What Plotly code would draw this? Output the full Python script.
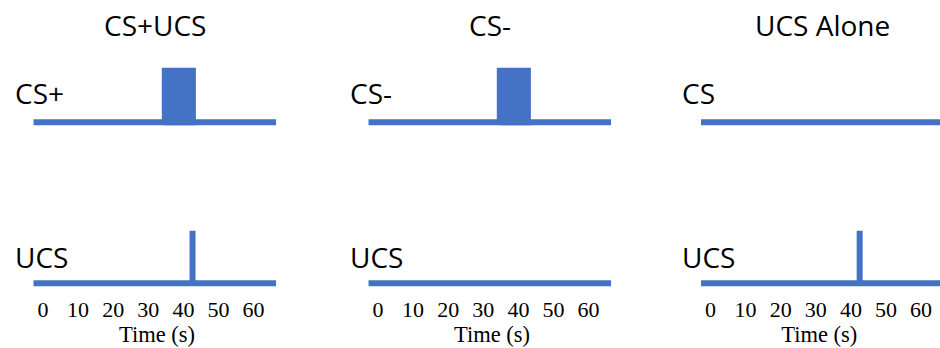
import plotly.graph_objects as go

# ---- data ----
panel_titles = ["CS+UCS", "CS-", "UCS Alone"]
cs_labels = ["CS+", "CS-", "CS"]
ucs_labels = ["UCS", "UCS", "UCS"]
time_ticks = [0, 10, 20, 30, 40, 50, 60]
tick_text = ["0", "10", "20", "30", "40", "50", "60"]
cs_onset = [34.7, 34.7, None]
cs_offset = [42.7, 42.7, None]
ucs_time = [42.6, None, 42.5]
trace_start = -2.7
trace_end = 66.4

# ---- layout geometry (pixels) ----
W, H = 940, 348
BLUE = "#4472C4"
zero_px = [43, 378, 710.5]
px_per_s = 3.51
cs_base_px, cs_top_px = 122.3, 70.7
ucs_base_px, ucs_top_px = 283.3, 230.7
cs_dom_px = (50, 140)
ucs_dom_px = (212, 293.5)


def xdom(i):
    left = zero_px[i] - 12
    right = min(zero_px[i] + 240, W)
    rng = [(left - zero_px[i]) / px_per_s, (right - zero_px[i]) / px_per_s]
    return [left / W, right / W], rng


def ydom(dom_px, base_px, top_px):
    scale = base_px - top_px
    top, bot = dom_px
    rng = [(base_px - bot) / scale, (base_px - top) / scale]
    return [1 - bot / H, 1 - top / H], rng


fig = go.Figure()
layout = {}
annotations = []
line = dict(color=BLUE, width=6)

for i in range(3):
    xd, xr = xdom(i)
    n_cs = 2 * i + 1
    n_ucs = 2 * i + 2
    xa_cs = "x" if n_cs == 1 else f"x{n_cs}"
    ya_cs = "y" if n_cs == 1 else f"y{n_cs}"
    xa_u, ya_u = f"x{n_ucs}", f"y{n_ucs}"

    # CS baseline
    fig.add_trace(go.Scatter(x=[trace_start, trace_end], y=[0, 0], mode="lines", line=line,
                             xaxis=xa_cs, yaxis=ya_cs, showlegend=False, hoverinfo="skip"))
    # CS pulse block
    if cs_onset[i] is not None:
        xs = [cs_onset[i], cs_onset[i], cs_offset[i], cs_offset[i], cs_onset[i]]
        ys = [0, 1, 1, 0, 0]
        fig.add_trace(go.Scatter(x=xs, y=ys, mode="lines", line=line, fill="toself",
                                 fillcolor=BLUE, xaxis=xa_cs, yaxis=ya_cs, showlegend=False))
    # UCS baseline + spike
    xs = [trace_start, trace_end]
    ys = [0, 0]
    if ucs_time[i] is not None:
        xs += [None, ucs_time[i], ucs_time[i]]
        ys += [None, 0, 1]
    fig.add_trace(go.Scatter(x=xs, y=ys, mode="lines", line=line, connectgaps=False,
                             xaxis=xa_u, yaxis=ya_u, showlegend=False))

    ycd, ycr = ydom(cs_dom_px, cs_base_px, cs_top_px)
    yud, yur = ydom(ucs_dom_px, ucs_base_px, ucs_top_px)
    kx_cs = "xaxis" if n_cs == 1 else f"xaxis{n_cs}"
    ky_cs = "yaxis" if n_cs == 1 else f"yaxis{n_cs}"
    common = dict(showgrid=False, zeroline=False, showline=False, fixedrange=True)
    layout[kx_cs] = dict(domain=xd, range=xr, anchor=ya_cs, showticklabels=False, **common)
    layout[ky_cs] = dict(domain=ycd, range=ycr, anchor=xa_cs, showticklabels=False, **common)
    layout[f"xaxis{n_ucs}"] = dict(
        domain=xd, range=xr, anchor=ya_u, tickmode="array", tickvals=time_ticks,
        ticktext=tick_text, ticks="",
        tickfont=dict(family="Liberation Serif", size=22, color="black"),
        title=dict(text="Time (s)", standoff=3,
                   font=dict(family="Liberation Serif", size=22.5, color="black")),
        **common)
    layout[f"yaxis{n_ucs}"] = dict(domain=yud, range=yur, anchor=xa_u, showticklabels=False, **common)

    line_left = zero_px[i] + trace_start * px_per_s
    line_center = zero_px[i] + (trace_start + trace_end) / 2 * px_per_s
    sans = dict(family="Open Sans", size=28, color="black")
    annotations.append(dict(text=panel_titles[i], x=line_center / W, y=1 - 24.7 / H,
                            xref="paper", yref="paper", xanchor="center", yanchor="middle",
                            showarrow=False, font=sans))
    annotations.append(dict(text=cs_labels[i], x=(line_left - 21) / W, y=1 - 93.3 / H,
                            xref="paper", yref="paper", xanchor="left", yanchor="middle",
                            showarrow=False, font=sans))
    annotations.append(dict(text=ucs_labels[i], x=(line_left - 21) / W, y=1 - 257.3 / H,
                            xref="paper", yref="paper", xanchor="left", yanchor="middle",
                            showarrow=False, font=sans))

fig.update_layout(width=W, height=H, margin=dict(l=0, r=0, t=0, b=0),
                  paper_bgcolor="white", plot_bgcolor="white",
                  annotations=annotations, **layout)
fig.write_html("out.html", config={"displayModeBar": False},
               post_script="document.body.style.margin='0px';document.body.style.overflow='hidden';")
